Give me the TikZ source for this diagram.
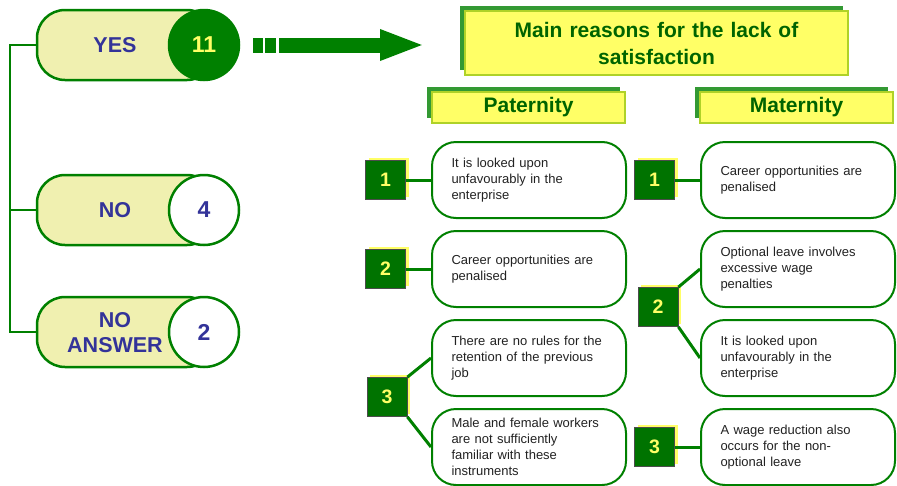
\documentclass[tikz,border=0pt]{standalone}
\usepackage{fontspec}
\setmainfont{Liberation Sans}
\usetikzlibrary{arrows.meta, positioning, shadows}
\definecolor{DarkGreen}{RGB}{0,128,0}
\definecolor{SquareGreen}{RGB}{0,115,0}
\definecolor{ShadowGreen}{RGB}{51,153,51}
\definecolor{TitleGreen}{RGB}{0,100,0}
\definecolor{Navy}{RGB}{51,51,153}
\definecolor{PillFill}{RGB}{240,240,176}
\definecolor{BoxYellow}{RGB}{255,255,102}
\definecolor{EdgeYellow}{RGB}{175,210,40}
\definecolor{TextGray}{RGB}{34,34,34}

\begin{document}
\begin{tikzpicture}[x=1pt, y=-1pt,
            node distance=11pt,
            pill/.style={rectangle, rounded corners=28pt, draw=DarkGreen, line width=2.5pt, fill=PillFill,
                         minimum width=178pt, minimum height=70pt},
            pilltext/.style={font=\fontsize{21.5}{25}\selectfont\bfseries, text=Navy, align=center},
            count/.style={circle, draw=DarkGreen, line width=2.5pt, fill=white, minimum size=70pt, inner sep=0pt,
                          font=\fontsize{23}{25}\selectfont\bfseries, text=Navy},
            heading/.style={rectangle, draw=EdgeYellow, line width=1.5pt, fill=BoxYellow, text=TitleGreen, align=center,
                            drop shadow={shadow xshift=-5pt, shadow yshift=5pt, fill=ShadowGreen, opacity=1}},
            rank/.style={rectangle, draw=black!70, line width=0.8pt, fill=SquareGreen, minimum width=40pt,
                         minimum height=39pt, inner sep=0pt, text=BoxYellow, font=\fontsize{19.5}{21}\selectfont\bfseries,
                         drop shadow={shadow xshift=3pt, shadow yshift=3pt, fill=BoxYellow, opacity=1}},
            reason/.style={rectangle, rounded corners=24pt, draw=DarkGreen, line width=2pt, fill=white,
                           minimum width=194pt, minimum height=76pt, text width=155pt, align=left, text=TextGray,
                           font=\fontsize{13}{16}\selectfont},
            link/.style={DarkGreen, line width=3pt},
            tree/.style={DarkGreen, line width=2.5pt},
            bigarrow/.style={draw=DarkGreen, line width=15pt, dash pattern=on 10pt off 2pt on 11pt off 3pt on 300pt,
                             -{Triangle[length=45pt, width=28pt]}}
        ]
            \useasboundingbox (0,0) rectangle (897,485);

            \node[pill] (yes) at (126,45) {};
            \node[count, fill=DarkGreen, text=BoxYellow] (yesn) at (204,45) {11};
            \node[pilltext] (yest) at (115,45) {YES};
            \node[pill] (no) at (126,210) {};
            \node[count] (non) at (204,210) {4};
            \node[pilltext] (not) at (115,210) {NO};
            \node[pill] (noans) at (126,332) {};
            \node[count] (noansn) at (204,332) {2};
            \node[pilltext] (noanst) at (115,333) {NO\\ANSWER};

            \coordinate (trunk) at (10,45);
            \draw[tree] (yes.west) -- (trunk) |- (noans.west);
            \draw[tree] (trunk |- no.west) -- (no.west);

            \coordinate (arrs) at (253,45);
            \coordinate (arre) at (425,45);
            \draw[bigarrow] (arrs) -- (arre);

            \node[heading, minimum width=383pt, minimum height=64pt, text width=360pt,
                  font=\fontsize{21}{27}\selectfont\bfseries] (title) at (656.5,43)
                {Main reasons for the lack of\\satisfaction};
            \node[heading, minimum width=193pt, minimum height=31pt, font=\fontsize{21}{24}\selectfont\bfseries]
                (pat) at (528.5,107.5) {Paternity};
            \node[heading, minimum width=193pt, minimum height=31pt, font=\fontsize{21}{24}\selectfont\bfseries]
                (mat) at (796.5,107.5) {Maternity};

            \node[reason] (p1) at (529,180) {It is looked upon\\unfavourably in the\\enterprise};
            \node[reason, below=of p1] (p2) {\makebox[155pt][s]{Career opportunities are}\\penalised};
            \node[reason, below=of p2] (p3a) {There are no rules for the\\\makebox[155pt][s]{retention of the previous}\\job};
            \node[reason, below=of p3a] (p3b) {Male and female workers\\are not sufficiently\\familiar with these\\instruments};

            \node[reason] (m1) at (798,180) {\makebox[155pt][s]{Career opportunities are}\\penalised};
            \node[reason, below=of m1] (m2a) {Optional leave involves\\excessive wage\\penalties};
            \node[reason, below=of m2a] (m2b) {It is looked upon\\unfavourably in the\\enterprise};
            \node[reason, below=of m2b] (m3) {A wage reduction also\\occurs for the non-\\optional leave};

            \node[rank, left=25pt of p1] (pn1) {1};
            \node[rank, left=25pt of p2] (pn2) {2};
            \node[rank] (pn3) at (387,397) {3};
            \node[rank, left=25pt of m1] (mn1) {1};
            \node[rank] (mn2) at (658,307) {2};
            \node[rank, left=25pt of m3] (mn3) {3};

            \draw[link] (pn1) -- (pn1 -| p1.west);
            \draw[link] (pn2) -- (pn2 -| p2.west);
            \draw[link] (pn3.north east) -- (p3a.west);
            \draw[link] (pn3.south east) -- (p3b.west);
            \draw[link] (mn1) -- (mn1 -| m1.west);
            \draw[link] (mn2.north east) -- (m2a.west);
            \draw[link] (mn2.south east) -- (m2b.west);
            \draw[link] (mn3) -- (mn3 -| m3.west);
        \end{tikzpicture}
\end{document}
